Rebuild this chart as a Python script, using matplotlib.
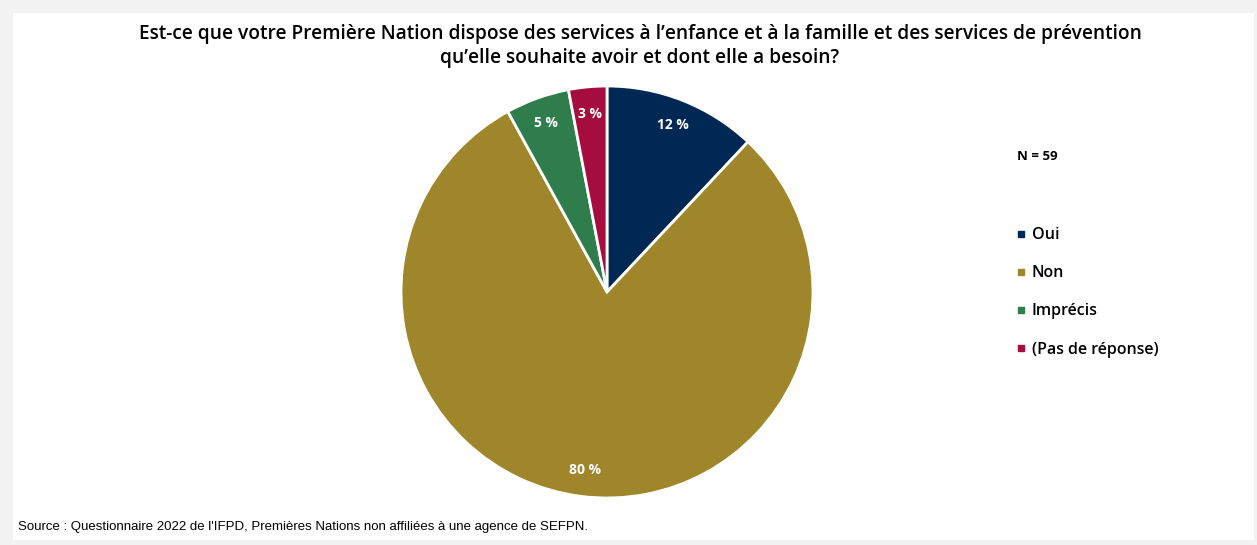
import matplotlib
matplotlib.use('Agg')
import matplotlib.pyplot as plt
from matplotlib.lines import Line2D
from matplotlib.patches import Rectangle

# donnees du questionnaire
categories = ['Oui', 'Non', 'Imprécis', '(Pas de réponse)']
pourcentages = [12, 80, 5, 3]
couleurs = ['#002855', '#a0862b', '#2f7d4c', '#a50d3f']
n_total = 59
titre = ("Est-ce que votre Première Nation dispose des services à l’enfance et à la famille et des services de prévention\n"
         "qu’elle souhaite avoir et dont elle a besoin?")
source = "Source : Questionnaire 2022 de l'IFPD, Premières Nations non affiliées à une agence de SEFPN."

W, H = 1257, 545
fig = plt.figure(figsize=(W / 100, H / 100), dpi=100)
fig.patch.set_facecolor('#f2f2f2')
# panneau blanc
fig.patches.append(Rectangle((13 / W, 5 / H), (1254 - 13) / W, (540 - 13) / H,
                             transform=fig.transFigure, facecolor='white',
                             edgecolor='none', zorder=-1))

cx, cy, r = 607, 292, 206
ax = fig.add_axes([(cx - r) / W, (H - cy - r) / H, 2 * r / W, 2 * r / H])
ax.set_zorder(1)
wedges, texts = ax.pie(pourcentages, colors=couleurs, startangle=90, counterclock=False,
                       radius=1, labels=[f'{p} %' for p in pourcentages],
                       labeldistance=0.87,
                       wedgeprops=dict(edgecolor='white', linewidth=2),
                       textprops=dict(color='white', fontsize=10, fontweight='bold',
                                      family='Open Sans'))
for t in texts:
    t.set_ha('center')
    t.set_va('center')
ax.set_xlim(-1.0, 1.0)
ax.set_ylim(-1.0, 1.0)
ax.set_aspect('equal')
ax.axis('off')

fig.text(640 / W, 1 - 46 / H, titre, ha='center', va='center', fontsize=13.75,
         fontweight='semibold', family='Open Sans', linespacing=1.2)

fig.text(1017 / W, 1 - 156 / H, f'N = {n_total}', ha='left', va='center',
         fontsize=9.5, fontweight='bold', family='Open Sans')

handles = [Line2D([], [], marker='s', linestyle='none', markersize=5,
                  markerfacecolor=c, markeredgecolor=c) for c in couleurs]
leg = fig.legend(handles, categories, loc='upper left',
                 bbox_to_anchor=(1002 / W, 1 - 213 / H), frameon=False,
                 handlelength=0.6, handletextpad=0.35, labelspacing=1.38,
                 prop=dict(family='Open Sans', size=11.5, weight='semibold'))
leg.set_zorder(2)

fig.text(18 / W, 1 - 527 / H, source, ha='left', va='center', fontsize=9.5,
         family='Liberation Sans')

plt.savefig('out.png', dpi=100, facecolor=fig.get_facecolor())
